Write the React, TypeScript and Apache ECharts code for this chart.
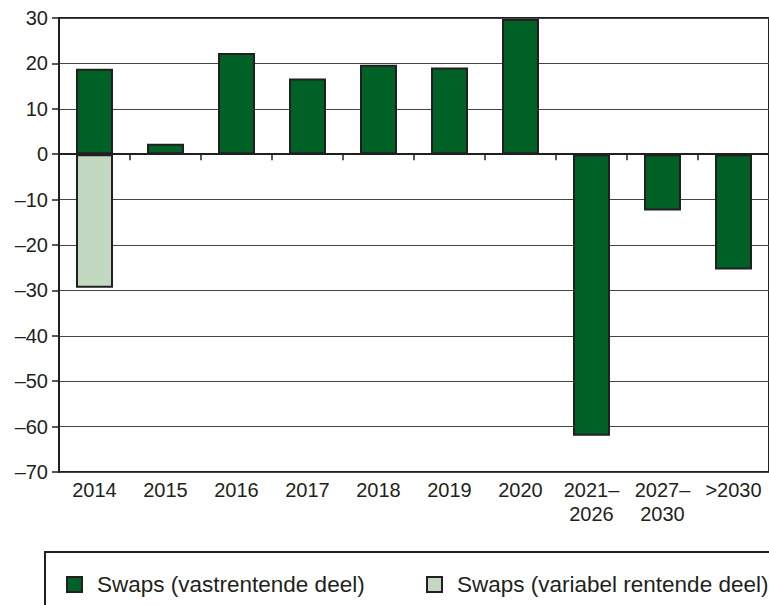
import React, { useEffect, useRef } from "react";
import * as echarts from "echarts";

const categories = ["2014", "2015", "2016", "2017", "2018", "2019", "2020", "2021–\n2026", "2027–\n2030", ">2030"];
const fixedPart = [18.8, 2.3, 22.3, 16.7, 19.7, 19.1, 29.8, -62, -12.4, -25.4];
const variablePart = [-29.4, null, null, null, null, null, null, null, null, null];
const seriesNames = ["Swaps (vastrentende deel)", "Swaps (variabel rentende deel)"];
const yMin = -70;
const yMax = 30;
const yStep = 10;

const INK = "#231f20";
const FONT = "'Liberation Sans', Arial, sans-serif";

export default function App() {
  const ref = useRef<HTMLDivElement>(null);
  useEffect(() => {
    if (!ref.current) return;
    const chart = echarts.init(ref.current, undefined, { renderer: "svg" });
    chart.setOption({
      animation: false,
      textStyle: { fontFamily: FONT, color: INK },
      grid: {
        left: 59,
        top: 18,
        width: 718,
        height: 454,
        show: true,
        borderColor: INK,
        borderWidth: 2,
        backgroundColor: "transparent",
      },
      legend: [
        {
          data: [seriesNames[0]],
          left: 66,
          top: 573,
          itemWidth: 15,
          itemHeight: 15,
          padding: 0,
          icon: "rect",
          textStyle: { fontFamily: FONT, fontSize: 22.5, color: INK, padding: [0, 0, 0, 10] },
        },
        {
          data: [seriesNames[1]],
          left: 426,
          top: 573,
          itemWidth: 15,
          itemHeight: 15,
          padding: 0,
          icon: "rect",
          textStyle: { fontFamily: FONT, fontSize: 22.5, color: INK, padding: [0, 0, 0, 10] },
        },
      ],
      graphic: [
        {
          type: "rect",
          shape: { x: 45, y: 552, width: 800, height: 100 },
          style: { fill: "none", stroke: INK, lineWidth: 2 },
          silent: true,
        },
      ],
      xAxis: [
        {
          type: "category",
          data: categories,
          axisLine: { onZero: true, lineStyle: { color: INK, width: 2 } },
          axisTick: { show: true, length: 6, lineStyle: { color: INK, width: 1.5 } },
          axisLabel: { show: false },
          splitLine: { show: false },
          z: 5,
        },
        {
          type: "category",
          data: categories,
          position: "bottom",
          axisLine: { show: false, onZero: false },
          axisTick: { show: false },
          axisLabel: {
            show: true,
            fontFamily: FONT,
            fontSize: 20,
            lineHeight: 24,
            color: INK,
            margin: 6,
            interval: 0,
          },
        },
      ],
      yAxis: {
        type: "value",
        min: yMin,
        max: yMax,
        interval: yStep,
        axisLine: { show: true, lineStyle: { color: INK, width: 2 } },
        axisTick: { show: true, length: 7, lineStyle: { color: INK, width: 1.5 } },
        axisLabel: {
          fontFamily: FONT,
          fontSize: 20,
          color: INK,
          margin: 11,
          formatter: (v: number) => (v < 0 ? "–" + Math.abs(v) : String(v)),
        },
        splitLine: { show: true, lineStyle: { color: "#454545", width: 1 } },
      },
      series: [
        {
          name: seriesNames[0],
          type: "bar",
          stack: "swaps",
          data: fixedPart,
          barWidth: 37,
          itemStyle: { color: "#006127", borderColor: INK, borderWidth: 2 },
        },
        {
          name: seriesNames[1],
          type: "bar",
          stack: "swaps",
          data: variablePart,
          barWidth: 37,
          itemStyle: { color: "#c3d8c1", borderColor: INK, borderWidth: 2 },
        },
      ],
    });
    return () => chart.dispose();
  }, []);
  return (
    <div
      ref={ref}
      style={{ position: "fixed", left: 0, top: 0, width: 769, height: 605, background: "#fff" }}
    />
  );
}
